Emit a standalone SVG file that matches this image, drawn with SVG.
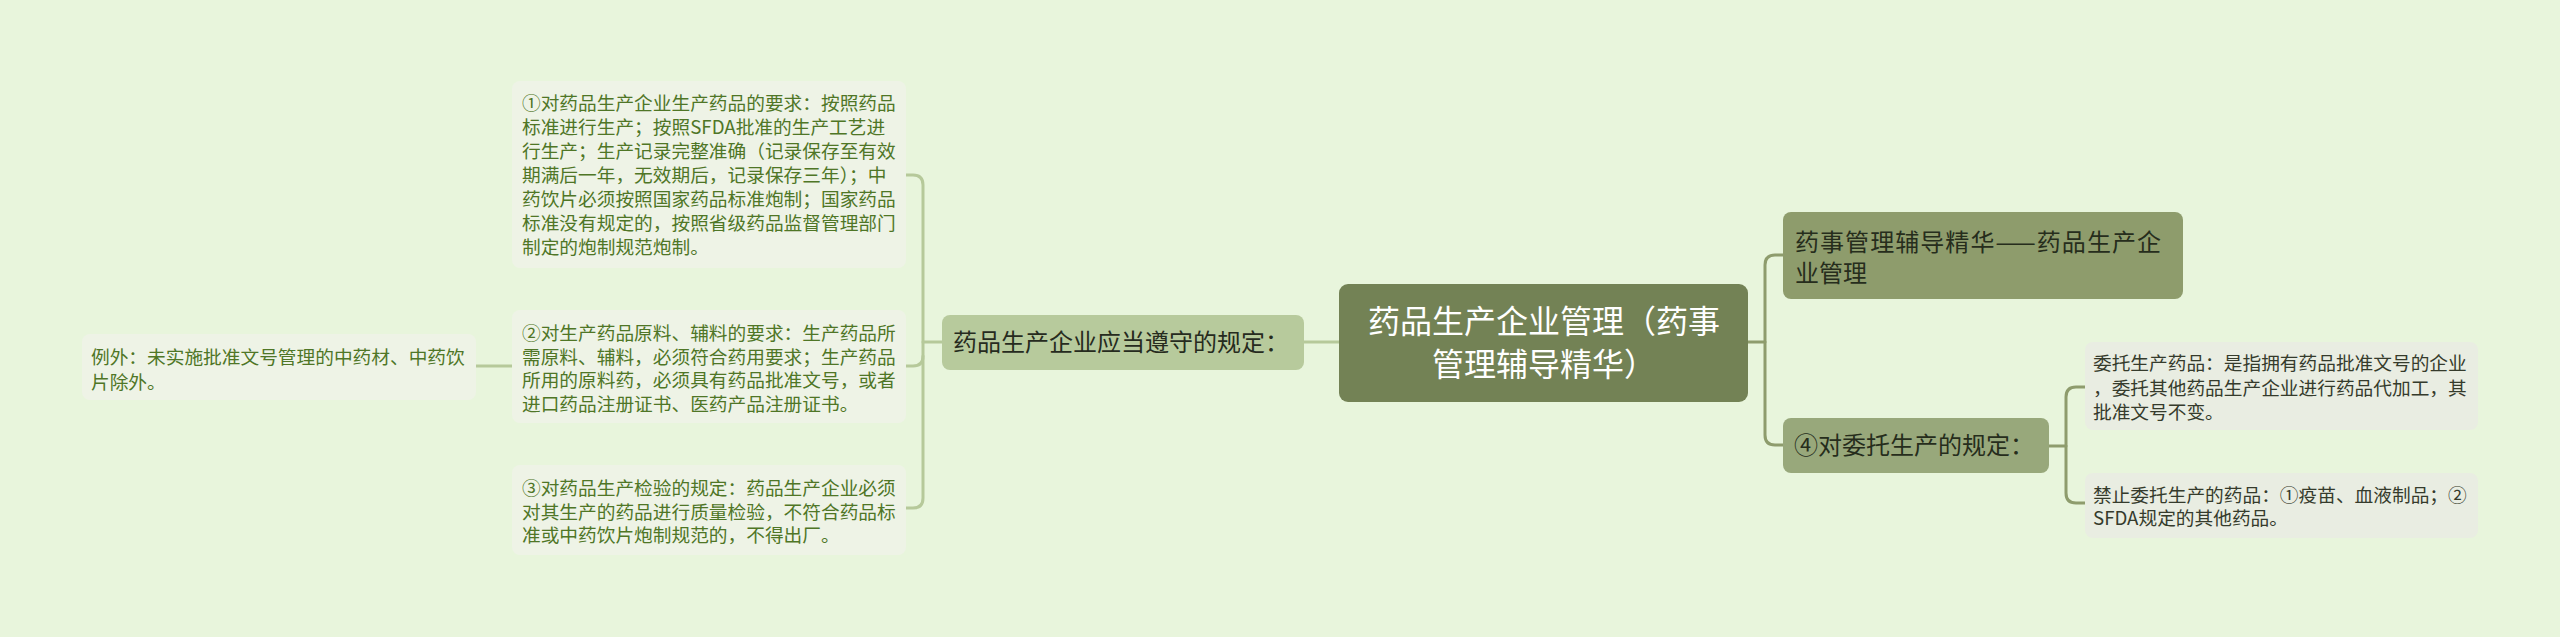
<svg xmlns="http://www.w3.org/2000/svg" width="2560" height="637" viewBox="0 0 2560 637">
<style>
text{font-family:"Noto Sans CJK SC","Liberation Sans",sans-serif;}
.leaf{fill:#eef3e6;}
.leafr{fill:#e9ede2;}
.tl{font-size:18.7px;fill:#4f7626;}
.tr{font-size:18.7px;fill:#353b2c;}
.cl{fill:none;stroke:#b6c99a;stroke-width:3;stroke-linecap:round;}
.cr{fill:none;stroke:#8e9c6d;stroke-width:3;stroke-linecap:round;}
</style>
<rect width="2560" height="637" fill="#e8f5dc"/>
<g id="connectors">
<path class="cl" d="M1304,342 H1339"/>
<path class="cl" d="M923,342 H942"/>
<path class="cl" d="M906,175 H913 Q923,175 923,185 V498 Q923,508 913,508 H906"/>
<path class="cl" d="M923,356 Q923,366 913,366 H906"/>
<path class="cl" d="M476,366 H512"/>
<path class="cr" d="M1748,342 H1765"/>
<path class="cr" d="M1783,255 H1775 Q1765,255 1765,265 V435 Q1765,445 1775,445 H1783"/>
<path class="cr" d="M2049,446 H2066"/>
<path class="cr" d="M2085,387 H2076 Q2066,387 2066,397 V493 Q2066,503 2076,503 H2085"/>
</g>
<g id="root">
<rect x="1339" y="284" width="409" height="118" rx="9" fill="#738255"/>
<text x="1544" y="333" font-size="32" fill="#ffffff" text-anchor="middle">药品生产企业管理（药事</text>
<text x="1544" y="376" font-size="32" fill="#ffffff" text-anchor="middle">管理辅导精华）</text>
</g>
<g id="rules">
<rect x="942" y="315" width="362" height="55" rx="8" fill="#b7ca9c"/>
<text x="953" y="351" font-size="24" fill="#262b1e">药品生产企业应当遵守的规定：</text>
</g>
<g id="rule1">
<rect class="leaf" x="512" y="81" width="394" height="187" rx="8"/>
<text class="tl" x="522" y="110">①对药品生产企业生产药品的要求：按照药品</text>
<text class="tl" x="522" y="134">标准进行生产；按照SFDA批准的生产工艺进</text>
<text class="tl" x="522" y="158">行生产；生产记录完整准确（记录保存至有效</text>
<text class="tl" x="522" y="182">期满后一年，无效期后，记录保存三年）；中</text>
<text class="tl" x="522" y="206">药饮片必须按照国家药品标准炮制；国家药品</text>
<text class="tl" x="522" y="230">标准没有规定的，按照省级药品监督管理部门</text>
<text class="tl" x="522" y="254">制定的炮制规范炮制。</text>
</g>
<g id="rule2">
<rect class="leaf" x="512" y="310" width="394" height="113" rx="8"/>
<text class="tl" x="522" y="340">②对生产药品原料、辅料的要求：生产药品所</text>
<text class="tl" x="522" y="363.5">需原料、辅料，必须符合药用要求；生产药品</text>
<text class="tl" x="522" y="387">所用的原料药，必须具有药品批准文号，或者</text>
<text class="tl" x="522" y="410.5">进口药品注册证书、医药产品注册证书。</text>
</g>
<g id="exception">
<rect class="leaf" x="82" y="334" width="394" height="66" rx="8"/>
<text class="tl" x="91" y="364">例外：未实施批准文号管理的中药材、中药饮</text>
<text class="tl" x="91" y="389">片除外。</text>
</g>
<g id="rule3">
<rect class="leaf" x="512" y="465" width="394" height="90" rx="8"/>
<text class="tl" x="522" y="495">③对药品生产检验的规定：药品生产企业必须</text>
<text class="tl" x="522" y="519">对其生产的药品进行质量检验，不符合药品标</text>
<text class="tl" x="522" y="542">准或中药饮片炮制规范的，不得出厂。</text>
</g>
<g id="essence">
<rect x="1783" y="212" width="400" height="87" rx="8" fill="#8e9c6c"/>
<text x="1795" y="251" font-size="24" fill="#262d1c" textLength="366" lengthAdjust="spacing">药事管理辅导精华——药品生产企</text>
<text x="1795" y="282" font-size="24" fill="#262d1c">业管理</text>
</g>
<g id="rule4">
<rect x="1783" y="418" width="266" height="55" rx="8" fill="#98a87b"/>
<text x="1794" y="454" font-size="24" fill="#262d1c">④对委托生产的规定：</text>
</g>
<g id="entrust">
<rect class="leafr" x="2085" y="342" width="393" height="88" rx="8"/>
<text class="tr" x="2093" y="370">委托生产药品：是指拥有药品批准文号的企业</text>
<text class="tr" x="2093" y="395">，委托其他药品生产企业进行药品代加工，其</text>
<text class="tr" x="2093" y="419">批准文号不变。</text>
</g>
<g id="forbidden">
<rect class="leafr" x="2085" y="473" width="393" height="65" rx="8"/>
<text class="tr" x="2093" y="502">禁止委托生产的药品：①疫苗、血液制品；②</text>
<text class="tr" x="2093" y="525">SFDA规定的其他药品。</text>
</g>
</svg>
